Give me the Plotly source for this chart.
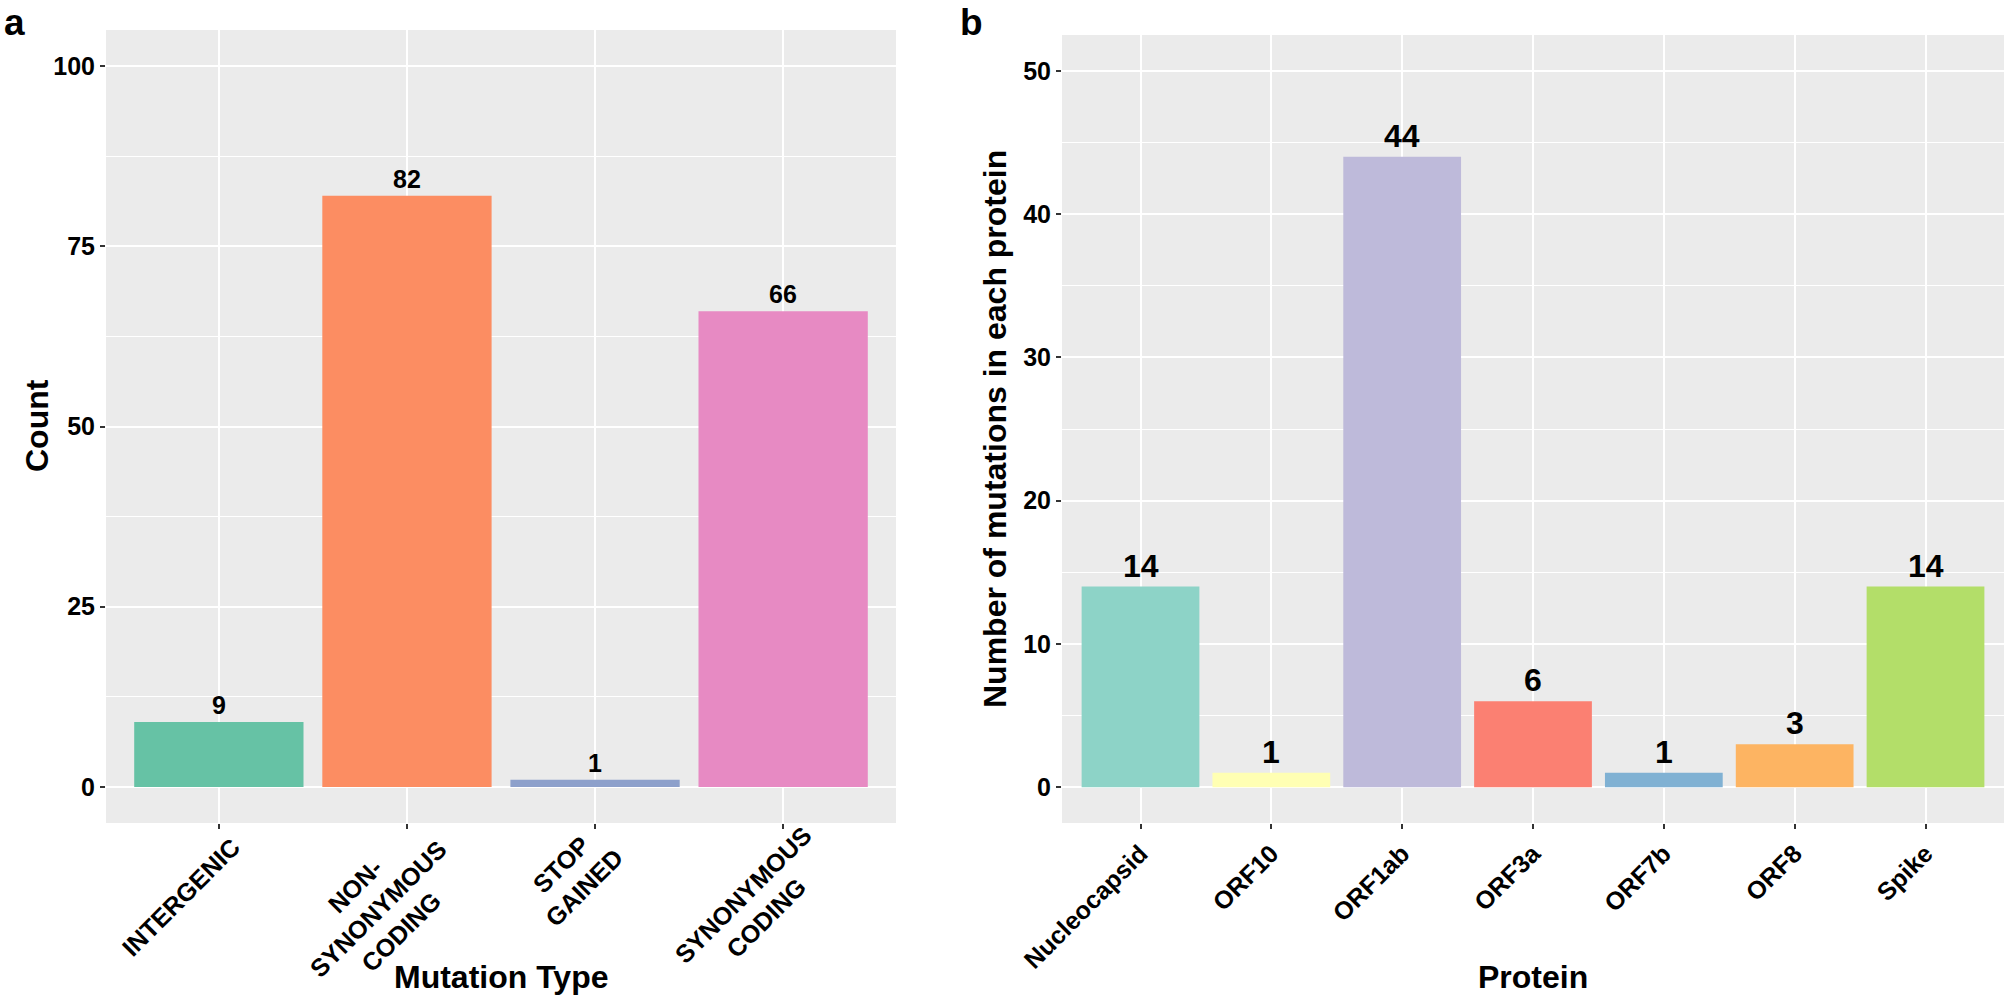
import plotly.graph_objects as go

# ---- data ----
mut_types = ["INTERGENIC", "NON-SYNONYMOUS CODING", "STOP GAINED", "SYNONYMOUS CODING"]
mut_labels = ["INTERGENIC", "NON-<br>SYNONYMOUS<br>CODING", "STOP<br>GAINED", "SYNONYMOUS<br>CODING"]
mut_counts = [9, 82, 1, 66]
mut_colors = ["#66C2A5", "#FC8D62", "#8DA0CB", "#E78AC3"]

proteins = ["Nucleocapsid", "ORF10", "ORF1ab", "ORF3a", "ORF7b", "ORF8", "Spike"]
prot_counts = [14, 1, 44, 6, 1, 3, 14]
prot_colors = ["#8DD3C7", "#FFFFB3", "#BEBADA", "#FB8072", "#80B1D3", "#FDB462", "#B3DE69"]

W, H = 2006, 1000
FONT = "Liberation Sans, Arial, Helvetica, sans-serif"
TICK_SIZE = 25

# approximate advance widths (em) of bold sans capitals, for label placement
CAP_W = {"A": .722, "B": .722, "C": .722, "D": .722, "E": .667, "F": .611, "G": .778,
         "H": .722, "I": .278, "J": .556, "K": .722, "L": .611, "M": .833, "N": .722,
         "O": .778, "P": .667, "Q": .778, "R": .722, "S": .667, "T": .611, "U": .722,
         "V": .667, "W": .944, "X": .667, "Y": .667, "Z": .611, "-": .333, " ": .278}

def px(x):
    return x / W

def py(y):
    return 1 - y / H

def text_width(s, size):
    return sum(CAP_W.get(ch, 0.6) for ch in s) * size

fig = go.Figure()
fig.add_trace(go.Bar(x=mut_types, y=mut_counts, marker=dict(color=mut_colors, line=dict(width=0)),
                     width=0.9, xaxis="x", yaxis="y", showlegend=False))
fig.add_trace(go.Bar(x=proteins, y=prot_counts, marker=dict(color=prot_colors, line=dict(width=0)),
                     width=0.9, xaxis="x2", yaxis="y2", showlegend=False))

annotations = []
for c, v in zip(mut_types, mut_counts):
    annotations.append(dict(x=c, y=v, xref="x", yref="y", text=str(v), showarrow=False,
                            yanchor="bottom", yshift=1,
                            font=dict(family=FONT, size=25, color="black", weight="bold")))
for c, v in zip(proteins, prot_counts):
    annotations.append(dict(x=c, y=v, xref="x2", yref="y2", text=str(v), showarrow=False,
                            yanchor="bottom", yshift=1,
                            font=dict(family=FONT, size=32, color="black", weight="bold")))

# rotated, centred multi-line category labels for panel a (ggplot-like placement)
tick_font = dict(family=FONT, size=TICK_SIZE, color="black", weight="bold")
for c, lab in zip(mut_types, mut_labels):
    lines = lab.split("<br>")
    n = len(lines)
    wmax = max(text_width(s, TICK_SIZE) for s in lines)
    if n == 1:
        mx, my = 18.5, 18.0
    else:
        mx = 13.5 + 0.285 * (wmax - 97)
        my = 17.0 + 3.0 * (n - 2)
    hb = (n - 1) * 1.3 * TICK_SIZE + 1.15 * TICK_SIZE + 2
    half = hb / 2.83
    annotations.append(dict(x=c, y=py(823), xref="x", yref="paper", text=lab, showarrow=False,
                            textangle=-45, xanchor="right", yanchor="top", align="center",
                            xshift=mx + half, yshift=-(my - half), font=tick_font))

title_font = dict(family=FONT, size=32, color="black", weight="bold")
annotations += [
    dict(text="Count", x=px(37), y=py(426), xref="paper", yref="paper", textangle=-90,
         showarrow=False, xanchor="center", yanchor="middle", font=title_font),
    dict(text="Mutation Type", x=px(501), y=py(977), xref="paper", yref="paper",
         showarrow=False, xanchor="center", yanchor="middle", font=title_font),
    dict(text="Number of mutations in each protein", x=px(995), y=py(429), xref="paper", yref="paper",
         textangle=-90, showarrow=False, xanchor="center", yanchor="middle", font=title_font),
    dict(text="Protein", x=px(1533), y=py(977), xref="paper", yref="paper",
         showarrow=False, xanchor="center", yanchor="middle", font=title_font),
    dict(text="a", x=px(14), y=1, xref="paper", yref="paper",
         showarrow=False, xanchor="center", yanchor="top",
         font=dict(family=FONT, size=37, color="black", weight="bold")),
    dict(text="b", x=px(971), y=1, xref="paper", yref="paper",
         showarrow=False, xanchor="center", yanchor="top",
         font=dict(family=FONT, size=37, color="black", weight="bold")),
]

common_x = dict(type="category", showgrid=True, gridcolor="white", gridwidth=2,
                ticks="outside", ticklen=5, tickwidth=2, tickcolor="#333333",
                tickangle=-45, tickfont=tick_font, showline=False, zeroline=False,
                automargin=False, fixedrange=True)
common_y = dict(showgrid=True, gridcolor="white", gridwidth=2,
                ticks="outside", ticklen=5, tickwidth=2, tickcolor="#333333",
                tickfont=tick_font, showline=False, zeroline=False,
                automargin=False, fixedrange=True)

fig.update_layout(
    width=W, height=H,
    margin=dict(l=0, r=0, t=0, b=0),
    paper_bgcolor="white",
    plot_bgcolor="#EBEBEB",
    annotations=annotations,
    xaxis=dict(common_x, domain=[px(106), px(896)], anchor="y",
               range=[-0.6, len(mut_types) - 0.4], showticklabels=False),
    yaxis=dict(common_y, domain=[py(823), py(30)], anchor="x",
               range=[-5, 105], tickvals=[0, 25, 50, 75, 100],
               minor=dict(tickvals=[12.5, 37.5, 62.5, 87.5], showgrid=True,
                          gridcolor="white", gridwidth=1, ticks="")),
    xaxis2=dict(common_x, domain=[px(1062), px(2004)], anchor="y2",
                range=[-0.6, len(proteins) - 0.4]),
    yaxis2=dict(common_y, domain=[py(823), py(35)], anchor="x2",
                range=[-2.5, 52.5], tickvals=[0, 10, 20, 30, 40, 50],
                minor=dict(tickvals=[5, 15, 25, 35, 45], showgrid=True,
                           gridcolor="white", gridwidth=1, ticks="")),
)

fig.write_html("out.html", config={"displayModeBar": False},
               post_script="document.body.style.margin='0';")
